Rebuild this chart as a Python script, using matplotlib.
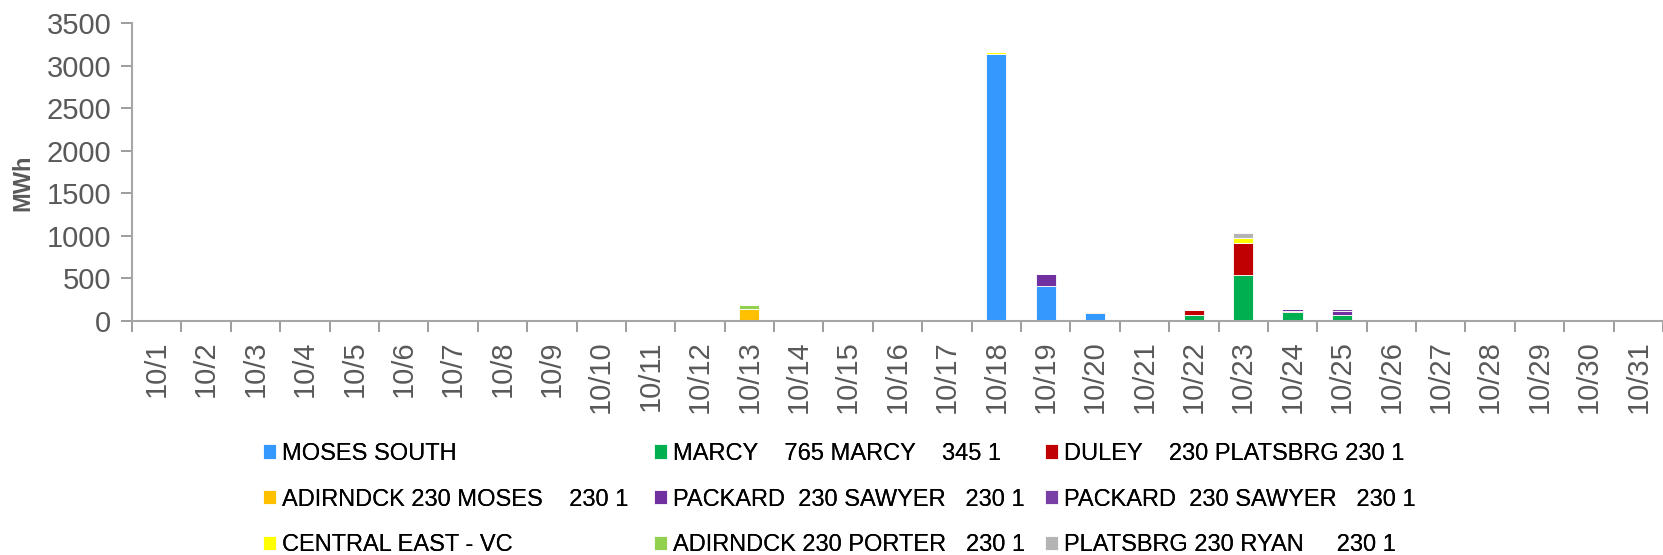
import matplotlib
matplotlib.use("Agg")
import matplotlib.pyplot as plt
import numpy as np

# =================
# DANE
# =================
dni = [f"10/{d}" for d in range(1, 32)]

serie = [
    "MOSES SOUTH",
    "MARCY    765 MARCY    345 1",
    "DULEY    230 PLATSBRG 230 1",
    "ADIRNDCK 230 MOSES    230 1",
    "PACKARD  230 SAWYER   230 1",
    "PACKARD  230 SAWYER   230 1",
    "CENTRAL EAST - VC",
    "ADIRNDCK 230 PORTER   230 1",
    "PLATSBRG 230 RYAN     230 1",
]

kolory = ["#3399FF", "#00B050", "#C00000", "#FFC000", "#7030A0",
          "#7A3FA6", "#FFFF00", "#92D050", "#B4B4B4"]

# wartosci MWh dla 10/1 .. 10/31
moses_south = [0]*17 + [3140, 415, 97] + [0]*11
marcy = [0]*21 + [67, 544, 108, 74] + [0]*6
duley = [0]*21 + [66, 368, 8, 0] + [0]*6
adirndck_moses = [0]*12 + [137] + [0]*18
packard_a = [0, 0, 5, 0, 10] + [0]*13 + [137, 12] + [0]*3 + [20, 45] + [0]*6
packard_b = [0]*24 + [18] + [0]*6
central_east = [0]*17 + [23, 0, 8, 0, 0, 66] + [0]*8
adirndck_porter = [0]*12 + [51] + [0]*18
platsbrg_ryan = [0]*22 + [59] + [0]*8

wartosci = [moses_south, marcy, duley, adirndck_moses, packard_a,
            packard_b, central_east, adirndck_porter, platsbrg_ryan]

# =================
# WYKRES
# =================
plt.rcParams["font.family"] = ["Liberation Sans", "DejaVu Sans"]
szary = "#595959"

fig = plt.figure(figsize=(16.63, 5.55), dpi=100)
ax = fig.add_axes([0.0794, 0.4216, 0.9206, 0.5370])

x = np.arange(len(dni))
dol = np.zeros(len(dni))
uchwyty = []
for nazwa, wart, kol in zip(serie, wartosci, kolory):
    wart = np.array(wart, dtype=float)
    b = ax.bar(x, wart, width=0.41, bottom=dol, color=kol,
               edgecolor="white", linewidth=0.6, label=nazwa)
    uchwyty.append(b)
    dol += wart

ax.set_xlim(-0.5, len(dni) - 0.5)
ax.set_ylim(0, 3500)
ax.set_yticks(range(0, 3501, 500))

ax.set_xticks(np.arange(-0.5, len(dni)), minor=False)
ax.set_xticklabels([])
ax.set_xticks(x, minor=True)
ax.set_xticklabels(dni, minor=True, rotation=90, fontsize=21, color=szary)
ax.tick_params(axis="x", which="minor", length=0, pad=14)
ax.tick_params(axis="x", which="major", length=8, width=1.2, color="#8C8C8C")
ax.tick_params(axis="y", length=8, width=1.2, color="#8C8C8C",
               labelsize=21, labelcolor=szary, pad=7)

for s in ["top", "right"]:
    ax.spines[s].set_visible(False)
for s in ["left", "bottom"]:
    ax.spines[s].set_color("#A6A6A6")
    ax.spines[s].set_linewidth(1.5)

fig.text(0.0138, 0.67, "MWh", rotation=90, ha="center", va="center",
         fontsize=17, fontweight="bold", color=szary)

# =================
# LEGENDA (3 kolumny)
# =================
kolumny_x = [0.1583, 0.3935, 0.6285]
for k in range(3):
    idx = [k, k + 3, k + 6]
    leg = fig.legend([uchwyty[i] for i in idx], [serie[i] for i in idx],
                     loc="upper left", bbox_to_anchor=(kolumny_x[k], 0.202),
                     frameon=False, handlelength=0.55,
                     handleheight=0.55, handletextpad=0.25, labelspacing=1.0,
                     borderaxespad=0, borderpad=0,
                     prop={"family": ["Liberation Sans"], "size": 17})
    fig.add_artist(leg)

fig.savefig("out.png", dpi=100)
